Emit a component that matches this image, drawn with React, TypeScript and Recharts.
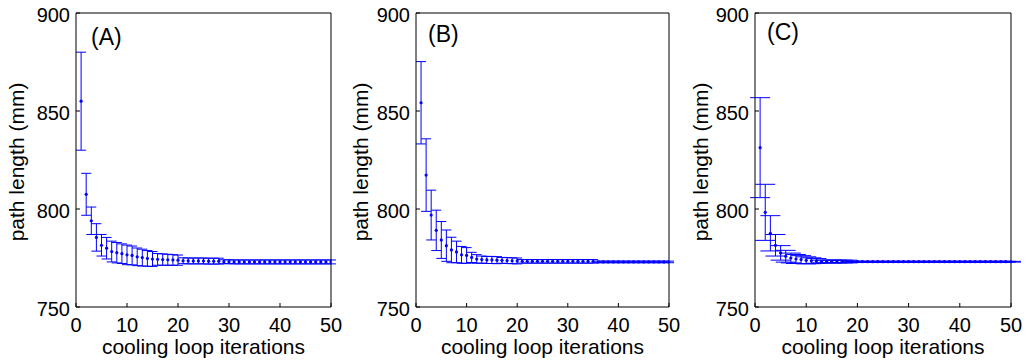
import { ScatterChart, Scatter, XAxis, YAxis, ErrorBar, Label } from 'recharts';

const FONT = '"Liberation Sans", Arial, Helvetica, sans-serif';
const BLUE = '#0000ff';

// ── data ────────────────────────────────────────────────────
const iterations = [
  1, 2, 3, 4, 5, 6, 7, 8, 9, 10, 11, 12, 13, 14, 15, 16, 17, 18, 19, 20, 21, 22, 23, 24, 25,
  26, 27, 28, 29, 30, 31, 32, 33, 34, 35, 36, 37, 38, 39, 40, 41, 42, 43, 44, 45, 46, 47, 48, 49, 50,
];

const meanA = [
  855, 807.5, 794, 785.5, 781.5, 780, 778.3, 777.7, 777.2, 776.6, 776.3, 775.6, 775.2, 774.8, 774.5,
  774.3, 774.2, 774.1, 774, 773.9, 773.6, 773.5, 773.5, 773.5, 773.5, 773.4, 773.4, 773.4, 773.1, 773.1,
  773, 773, 773, 773, 773, 773, 773, 773, 773, 773, 773, 773, 773, 773, 773, 773, 773, 773, 773, 773,
];
const errA = [
  25, 10.7, 7, 7, 5.5, 5.5, 5.3, 5.2, 5, 5, 4.8, 4.5, 4.3, 4, 3.8, 3, 2.9, 2.8, 2.7, 2.6, 1.5, 1.5, 1.5,
  1.5, 1.5, 1.5, 1.5, 1.5, 1, 1, 1, 1, 1, 1, 1, 1, 1, 1, 1, 1, 1, 1, 1, 1, 1, 1, 1, 1, 1, 1,
];

const meanB = [
  854.2, 817.3, 796.9, 789.1, 784.2, 781.3, 779.1, 778.1, 776.6, 776.3, 775.3, 774.5, 774.2, 774, 774,
  773.9, 773.8, 773.7, 773.6, 773.5, 773.3, 773.3, 773.3, 773.3, 773.3, 773.3, 773.3, 773.3, 773.3,
  773.3, 773.3, 773.3, 773.3, 773.3, 773.3, 773, 773, 773, 773, 773, 773, 773, 773, 773, 773, 773, 773,
  773, 773, 773,
];
const errB = [
  21, 18.5, 12.7, 10.3, 9.4, 8, 6.5, 5.5, 4.3, 4, 2.6, 2.2, 1.8, 1.8, 1.8, 1.8, 1.5, 1.5, 1.5, 1.5, 0.9,
  0.9, 0.9, 0.9, 0.9, 0.9, 0.9, 0.9, 0.9, 0.9, 0.9, 0.9, 0.9, 0.9, 0.9, 0.4, 0.4, 0.4, 0.4, 0.4, 0.4,
  0.4, 0.4, 0.4, 0.4, 0.4, 0.4, 0.4, 0.4, 0.4,
];

const meanC = [
  831.3, 798.3, 787.6, 781.5, 777.6, 775.9, 775, 774.5, 774.2, 773.8, 773.6, 773.5, 773.2, 773.2, 773.2,
  773.2, 773.2, 773.2, 773.1, 773.1, 773.1, 773.1, 773.1, 773.1, 773.1, 773.1, 773.1, 773.1, 773.1,
  773.1, 773.1, 773.1, 773.1, 773.1, 773.1, 773.1, 773.1, 773.1, 773.1, 773.1, 773.1, 773.1, 773.1,
  773.1, 773.1, 773.1, 773.1, 773.1, 773.1, 773.1,
];
const errC = [
  25.5, 14.3, 9, 5.5, 3.7, 3, 2.5, 2.3, 2, 1.8, 1.5, 1.2, 0.7, 0.7, 0.7, 0.7, 0.7, 0.7, 0.2, 0.2, 0.2,
  0.2, 0.2, 0.2, 0.2, 0.2, 0.2, 0.2, 0.2, 0.2, 0.2, 0.2, 0.2, 0.2, 0.2, 0.2, 0.2, 0.2, 0.2, 0.2, 0.2,
  0.2, 0.2, 0.2, 0.2, 0.2, 0.2, 0.2, 0.2, 0.2,
];

const xTicks = [0, 10, 20, 30, 40, 50];
const yTicks = [750, 800, 850, 900];

// ── one panel ───────────────────────────────────────────────
type PanelProps = {
  tag: string;
  means: number[];
  errors: number[];
  left: number;
  width: number;
  capWidth: number;
  yLabelX: number;
  tagX: number;
  tagY: number;
};

const RIGHT_PAD = 16;

function Panel({ tag, means, errors, left, width, capWidth, yLabelX, tagX, tagY }: PanelProps) {
  const data = iterations.map((it, i) => ({ x: it, y: means[i], err: errors[i] }));
  const plotLeft = 76;
  const plotRight = width - RIGHT_PAD;
  const xMid = (plotLeft + plotRight) / 2;

  const xTick = (p: any) => (
    <text x={p.x} y={p.y + 25} textAnchor="middle" fontSize={20} fontFamily={FONT} fill="#000">
      {p.payload.value}
    </text>
  );
  const yTick = (p: any) => (
    <text x={p.x} y={p.y + 9} textAnchor="end" fontSize={20} fontFamily={FONT} fill="#000">
      {p.payload.value}
    </text>
  );

  return (
    <div style={{ position: 'absolute', left, top: 0 }}>
      <ScatterChart width={width} height={364} margin={{ top: 12, right: RIGHT_PAD - 1, bottom: 0, left: 26 }}>
        <XAxis
          dataKey="x"
          type="number"
          domain={[0, 50]}
          ticks={xTicks}
          height={57}
          allowDataOverflow
          axisLine={{ stroke: '#000' }}
          tickLine={{ stroke: '#000' }}
          tickSize={-4}
          tickMargin={4}
          tick={xTick}
        >
          <Label
            value="cooling loop iterations"
            content={() => (
              <text x={xMid} y={354} textAnchor="middle" fontSize={21} fontFamily={FONT} fill="#000">
                cooling loop iterations
              </text>
            )}
          />
        </XAxis>
        <XAxis
          xAxisId="t"
          orientation="top"
          type="number"
          domain={[0, 50]}
          ticks={xTicks}
          height={1}
          axisLine={{ stroke: '#000' }}
          tickLine={{ stroke: '#000' }}
          tickSize={-4}
          tick={false}
        >
          <Label
            value={tag}
            content={() => (
              <text x={tagX} y={tagY} fontSize={23} fontFamily={FONT} fill="#000">
                {tag}
              </text>
            )}
          />
        </XAxis>
        <YAxis
          dataKey="y"
          type="number"
          domain={[750, 900]}
          ticks={yTicks}
          width={50}
          allowDataOverflow
          axisLine={{ stroke: '#000' }}
          tickLine={{ stroke: '#000' }}
          tickSize={-4}
          tickMargin={10}
          tick={yTick}
        >
          <Label
            value="path length (mm)"
            content={() => (
              <text
                x={yLabelX}
                y={162}
                transform={`rotate(-90 ${yLabelX} 162)`}
                textAnchor="middle"
                fontSize={21}
                fontFamily={FONT}
                fill="#000"
              >
                path length (mm)
              </text>
            )}
          />
        </YAxis>
        <YAxis
          yAxisId="r"
          orientation="right"
          type="number"
          domain={[750, 900]}
          ticks={yTicks}
          width={1}
          axisLine={{ stroke: '#000' }}
          tickLine={{ stroke: '#000' }}
          tickSize={-4}
          tick={false}
        />
        <Scatter
          data={data}
          isAnimationActive={false}
          shape={(p: any) => <circle cx={p.cx} cy={p.cy} r={1.6} fill={BLUE} />}
        >
          <ErrorBar
            dataKey="err"
            direction="y"
            width={capWidth}
            stroke={BLUE}
            strokeWidth={1}
            isAnimationActive={false}
          />
        </Scatter>
      </ScatterChart>
    </div>
  );
}

export default function App() {
  return (
    <div style={{ position: 'relative', width: 1027, height: 364, background: '#fff' }}>
      <style>{'body{margin:0}'}</style>
      <Panel tag="(A)" means={meanA} errors={errA} left={0} width={347} capWidth={5} yLabelX={24} tagX={91} tagY={45} />
      <Panel tag="(B)" means={meanB} errors={errB} left={340} width={345} capWidth={5} yLabelX={28} tagX={88} tagY={42} />
      <Panel tag="(C)" means={meanC} errors={errC} left={679} width={348} capWidth={10} yLabelX={29} tagX={88} tagY={40} />
    </div>
  );
}
